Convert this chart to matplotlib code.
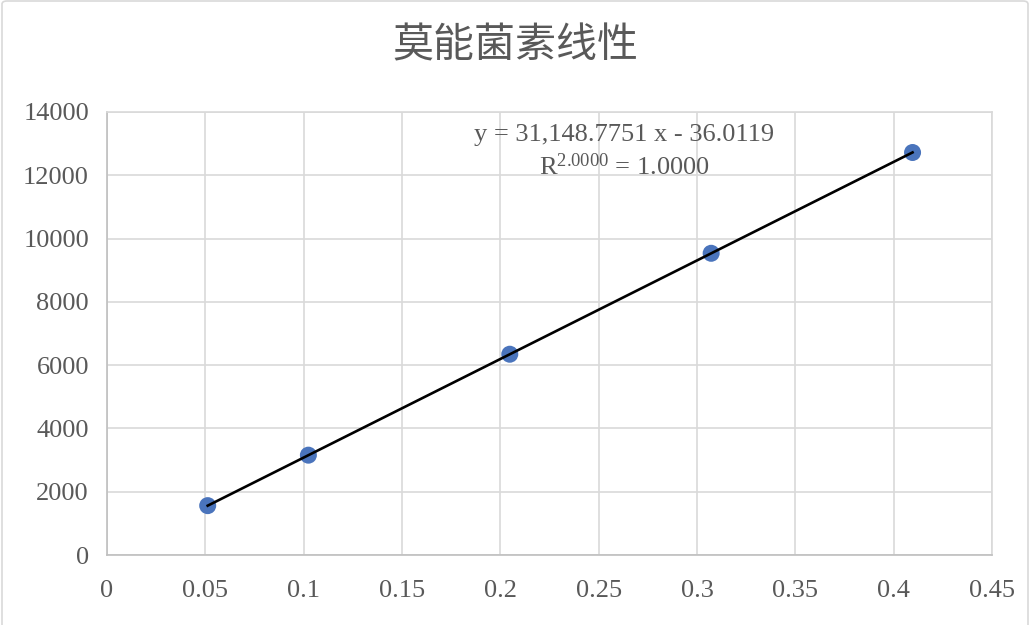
import matplotlib
matplotlib.use("Agg")
import matplotlib.pyplot as plt
from matplotlib.patches import FancyBboxPatch
import numpy as np

# Data
x_vals = [0.0512, 0.1024, 0.2048, 0.3072, 0.4096]
y_vals = [1560, 3155, 6345, 9535, 12720]
slope = 31148.7751
intercept = -36.0119
x_ticks = [0, 0.05, 0.1, 0.15, 0.2, 0.25, 0.3, 0.35, 0.4, 0.45]
x_tick_labels = ["0", "0.05", "0.1", "0.15", "0.2", "0.25", "0.3", "0.35", "0.4", "0.45"]
y_ticks = [0, 2000, 4000, 6000, 8000, 10000, 12000, 14000]
title = "莫能菌素线性"

plt.rcParams['font.family'] = ['Liberation Serif', 'DejaVu Serif']
plt.rcParams['mathtext.fontset'] = 'custom'
plt.rcParams['mathtext.rm'] = 'Liberation Serif'
plt.rcParams['mathtext.it'] = 'Liberation Serif'

W, H = 1035, 625
fig = plt.figure(figsize=(W / 100, H / 100), dpi=100)
ax = fig.add_axes([107 / W, 1 - 555 / H, (992 - 107) / W, (555 - 112) / H])

txt_color = "#595959"
grid_color = "#D9D9D9"

# chart border
border = FancyBboxPatch((2 / W, -0.05), (1028 - 2) / W, 1 - 1 / H + 0.05,
                        boxstyle="round,pad=0,rounding_size=0.005",
                        transform=fig.transFigure, fill=False,
                        edgecolor=grid_color, linewidth=1.2, clip_on=False)
fig.patches.append(border)

ax.set_xlim(0, 0.45)
ax.set_ylim(0, 14000)
ax.set_xticks(x_ticks)
ax.set_xticklabels(x_tick_labels)
ax.set_yticks(y_ticks)
ax.set_yticklabels([str(v) for v in y_ticks])
ax.tick_params(length=0, labelsize=19, colors=txt_color)
ax.tick_params(axis='x', pad=18)
ax.tick_params(axis='y', pad=13)
ax.grid(True, color=grid_color, linewidth=1.2)
ax.set_axisbelow(True)
for side in ['top', 'right']:
    ax.spines[side].set_color(grid_color)
    ax.spines[side].set_linewidth(1.2)
for side in ['left', 'bottom']:
    ax.spines[side].set_color("#BFBFBF")
    ax.spines[side].set_linewidth(1.2)

ax.scatter(x_vals, y_vals, s=150, color="#4A74BC", zorder=3, edgecolors='none')
xl = np.array([min(x_vals), max(x_vals)])
ax.plot(xl, slope * xl + intercept, color="black", linewidth=1.9, zorder=4)

ax.text(0.263, 13280, "y = 31,148.7751 x - 36.0119", ha='center', va='center',
        fontsize=19, color=txt_color)
ax.text(0.263, 12280, r"R$^{2.0000}$ = 1.0000", ha='center', va='center',
        fontsize=19, color=txt_color)

fig.text(515 / W, 1 - 46 / H, title, ha='center', va='center', fontsize=29.5,
         color=txt_color, family=['Noto Sans CJK SC', 'DejaVu Sans'])

fig.savefig("out.png", dpi=100)
